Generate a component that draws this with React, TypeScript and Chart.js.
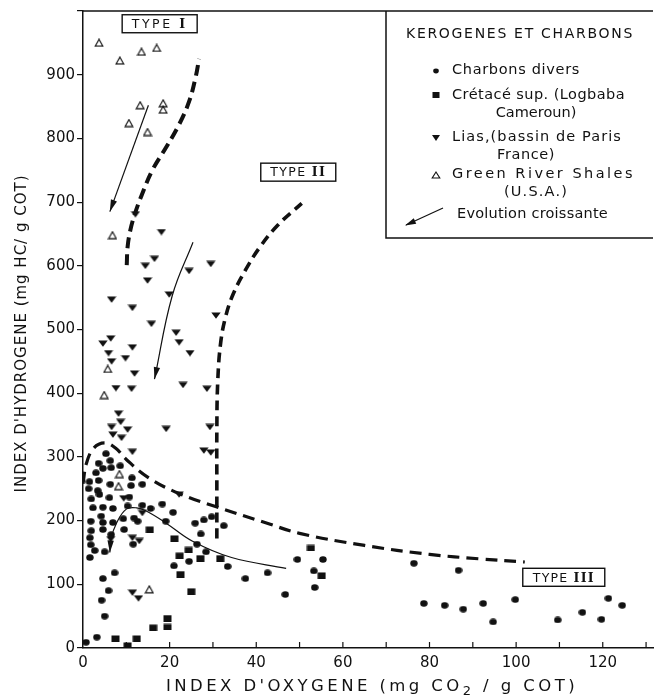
import React, { useEffect, useRef } from 'react';
import { Chart, registerables } from 'chart.js';

Chart.register(...registerables);

// ---------- axis ranges / ticks ----------
const X_MIN = 0;
const X_MAX = 131.6;
const Y_MIN = 0;
const Y_MAX = 1000;
const X_LABELED = [0, 20, 40, 60, 80, 100, 120];
const Y_LABELED = [0, 100, 200, 300, 400, 500, 600, 700, 800, 900];

// ---------- data: [Index d'oxygène, Index d'hydrogène] ----------
const charbonsDivers: number[][] = [
  [5.3, 305], [3.6, 290], [6.3, 294], [4.6, 282], [6.5, 283], [8.6, 286], [3.0, 275], [11.3, 267],
  [3.6, 263], [1.5, 261], [6.3, 257], [11.1, 255], [13.7, 257], [1.3, 250], [3.4, 247], [1.9, 234],
  [3.8, 241], [6.1, 236], [10.7, 237], [2.3, 220], [4.6, 221], [6.9, 219], [10.3, 223], [13.7, 224],
  [15.6, 219], [18.3, 226], [4.2, 207], [1.8, 199], [4.6, 197], [6.9, 197], [12.6, 199], [19.1, 199],
  [9.3, 203], [11.8, 204], [1.9, 184], [4.6, 186], [9.5, 186], [6.5, 178], [11.6, 163], [20.8, 213],
  [1.6, 173], [1.8, 162], [2.7, 153], [1.6, 142], [5.0, 151], [7.3, 118], [4.6, 109], [5.9, 90],
  [4.3, 75], [5.0, 50], [3.2, 17], [0.7, 9],
  [21, 129], [24.5, 136], [25.9, 196], [27.9, 201], [29.7, 206], [32.5, 192], [27.2, 179], [26.3, 163],
  [28.4, 151], [33.4, 128], [37.5, 109], [42.6, 118], [46.7, 84], [49.5, 139], [53.3, 121], [55.4, 139],
  [53.5, 95],
  [76.4, 133], [86.7, 122], [78.7, 70], [83.5, 67], [87.8, 61], [92.4, 70], [94.7, 41], [99.8, 76],
  [109.6, 44], [115.3, 56], [119.7, 45], [121.3, 78], [124.5, 67],
];

const cretaceSup: number[][] = [
  [15.4, 186], [21.1, 172], [24.4, 154], [22.3, 145], [27.1, 141], [31.7, 141], [22.5, 116], [25, 89],
  [16.2, 32], [19.5, 47], [19.5, 33], [7.5, 15], [12.4, 15], [10.3, 4], [52.6, 157], [55.1, 114],
];

const lias: number[][] = [
  [12.1, 681], [18.1, 653], [16.5, 611], [14.4, 600], [14.9, 577], [6.6, 547], [11.4, 534], [15.8, 509],
  [19.9, 555], [24.5, 592], [29.5, 603], [30.7, 522], [21.5, 495], [22.2, 480], [24.7, 463], [4.6, 478],
  [6.4, 486], [5.9, 463], [6.6, 450], [9.8, 455], [11.4, 472], [11.9, 431], [7.6, 408], [11.2, 407],
  [23.1, 413], [28.6, 407], [8.2, 368], [8.7, 355], [6.6, 347], [10.3, 343], [19.2, 344], [29.3, 347],
  [6.9, 335], [8.9, 330], [11.4, 308], [27.9, 310], [29.5, 307], [22.2, 241], [9.4, 235], [13.7, 212],
  [11.4, 173], [13, 168], [6.4, 171], [11.4, 87], [12.8, 78],
];

const greenRiver: number[][] = [
  [3.7, 950], [8.5, 922], [13.5, 936], [17, 942], [13.2, 852], [18.5, 855], [18.5, 845], [10.6, 824],
  [14.9, 810], [6.8, 648], [5.7, 438], [4.9, 397], [8.4, 273], [8.2, 254], [15.3, 92],
];

// ---------- evolution paths ----------
const typeIBoundary: number[][] = [
  [10.1, 601], [10.3, 630], [10.9, 655], [11.9, 680], [13.5, 710], [16, 750], [19.2, 786],
  [22.2, 822], [24.5, 858], [26, 896], [26.8, 925],
];
const typeIIBoundary: number[][] = [
  [30.9, 172], [30.9, 260], [30.9, 340], [31.1, 417], [31.8, 480], [33, 522], [34.7, 556],
  [37.4, 592], [40.7, 628], [45, 664], [50.5, 698],
];
const typeIIIBoundary: number[][] = [
  [0, 258], [0.8, 290], [2.5, 314], [5, 322], [7.5, 314], [10, 296], [15, 268], [22, 243],
  [30.6, 222], [42, 197], [50, 180], [65, 161], [80, 147], [91.5, 140], [102, 135],
];
const typeIArrow: number[][] = [[15.1, 852], [6.2, 685]];
const typeIIArrow: number[][] = [[25.4, 637], [20.6, 553], [16.5, 422]];
const typeIIICurve: number[][] = [
  [46.9, 125], [34.3, 142], [25.2, 168], [19.2, 196], [14.6, 215], [12.4, 220], [10, 218],
  [7.8, 197], [6.4, 170], [6.2, 150],
];

const legendTitle = 'KEROGENES ET CHARBONS';
const legendLines = [
  ['Charbons divers'],
  ['Crétacé sup. (Logbaba', 'Cameroun)'],
  ['Lias,(bassin de Paris', 'France)'],
  ['Green River Shales', '(U.S.A.)'],
];
const legendArrowText = 'Evolution croissante';
const typeNames = ['I', 'II', 'III'];
const typeAnchors: number[][] = [[17.7, 980], [49.7, 747], [111, 111]];

const SANS = '"DejaVu Sans", "Liberation Sans", sans-serif';
const INK = '#111';

const toXY = (arr: number[][]) => arr.map(([x, y]) => ({ x, y }));

function makeImg(w: number, h: number, draw: (c: CanvasRenderingContext2D) => void) {
  const c = document.createElement('canvas');
  c.width = w;
  c.height = h;
  const g = c.getContext('2d')!;
  draw(g);
  return c;
}

function drawSpaced(
  ctx: CanvasRenderingContext2D,
  parts: { t: string; font: string; dy?: number }[],
  x0: number,
  y: number,
  target: number,
  align: 'center' | 'left' = 'center'
) {
  const anyCtx = ctx as any;
  anyCtx.letterSpacing = '0px';
  let natural = 0;
  let n = 0;
  for (const p of parts) {
    ctx.font = p.font;
    natural += ctx.measureText(p.t).width;
    n += [...p.t].length;
  }
  const sp = Math.max(0, (target - natural) / Math.max(1, n));
  let x = align === 'center' ? x0 - (natural + sp * n) / 2 : x0;
  ctx.textAlign = 'left';
  for (const p of parts) {
    ctx.font = p.font;
    anyCtx.letterSpacing = sp + 'px';
    ctx.fillText(p.t, x, y + (p.dy || 0));
    anyCtx.letterSpacing = '0px';
    x += ctx.measureText(p.t).width + [...p.t].length * sp;
  }
}

function arrowHead(ctx: CanvasRenderingContext2D, x: number, y: number, ang: number, len = 12, half = 3.2) {
  const dx = Math.cos(ang), dy = Math.sin(ang);
  const bx = x - dx * len, by = y - dy * len;
  ctx.beginPath();
  ctx.moveTo(x, y);
  ctx.lineTo(bx - dy * half, by + dx * half);
  ctx.lineTo(bx + dy * half, by - dx * half);
  ctx.closePath();
  ctx.fill();
}

const decorPlugin = {
  id: 'decor',
  afterDatasetsDraw(chart: any) {
    const ctx: CanvasRenderingContext2D = chart.ctx;
    ctx.save();
    ctx.fillStyle = INK;
    chart.data.datasets.forEach((ds: any, i: number) => {
      if (!ds.arrow) return;
      const pts = chart.getDatasetMeta(i).data;
      const p = pts[pts.length - 1];
      const q = pts[pts.length - 2];
      let cx = p.cp1x, cy = p.cp1y;
      if (cx === undefined || Math.hypot(p.x - cx, p.y - cy) < 1) { cx = q.x; cy = q.y; }
      arrowHead(ctx, p.x, p.y, Math.atan2(p.y - cy, p.x - cx));
    });
    ctx.restore();
  },
  afterDraw(chart: any) {
    const ctx: CanvasRenderingContext2D = chart.ctx;
    const { left, right, top, bottom } = chart.chartArea;
    const xs = chart.scales.x;
    const ys = chart.scales.y;
    ctx.save();
    ctx.strokeStyle = INK;
    ctx.fillStyle = INK;

    // top frame
    ctx.lineWidth = 1.5;
    ctx.beginPath();
    ctx.moveTo(left, top);
    ctx.lineTo(right, top);
    ctx.stroke();

    // inner x ticks
    ctx.lineWidth = 1.2;
    xs.ticks.forEach((t: any) => {
      if (t.value <= 0) return;
      const px = xs.getPixelForValue(t.value);
      ctx.beginPath();
      ctx.moveTo(px, bottom);
      ctx.lineTo(px, bottom - 6);
      ctx.stroke();
    });

    // type labels
    ctx.textBaseline = 'middle';
    typeNames.forEach((num, i) => {
      const cx = xs.getPixelForValue(typeAnchors[i][0]);
      const cy = ys.getPixelForValue(typeAnchors[i][1]);
      const w = i === 2 ? 82 : 75;
      const h = 18;
      ctx.fillStyle = '#fff';
      ctx.fillRect(cx - w / 2, cy - h / 2, w, h);
      ctx.lineWidth = 1.4;
      ctx.strokeStyle = INK;
      ctx.strokeRect(cx - w / 2, cy - h / 2, w, h);
      ctx.fillStyle = INK;
      const tw = i === 2 ? 62 : 56;
      drawSpaced(ctx, [
        { t: 'TYPE ', font: `12.5px ${SANS}` },
        { t: num, font: `bold 12.5px "DejaVu Serif", serif` },
      ], cx, cy + 1, tw);
    });

    // legend box
    const bw = 267, bh = 227;
    const bx = right - bw, by = top;
    ctx.fillStyle = '#fff';
    ctx.fillRect(bx, by + 1, bw, bh - 1);
    ctx.strokeStyle = INK;
    ctx.lineWidth = 1.5;
    ctx.beginPath();
    ctx.moveTo(bx, by);
    ctx.lineTo(bx, by + bh);
    ctx.lineTo(right, by + bh);
    ctx.stroke();
    ctx.fillStyle = INK;
    ctx.textBaseline = 'middle';
    drawSpaced(ctx, [{ t: legendTitle, font: `14px ${SANS}` }], bx + 134, by + 23, 228);

    const tx = bx + 66;
    const mx = bx + 50;
    const f = `14.5px ${SANS}`;
    // entry 1 : dot
    ctx.beginPath();
    ctx.ellipse(mx, by + 60, 2.8, 2.4, 0, 0, Math.PI * 2);
    ctx.fill();
    drawSpaced(ctx, [{ t: legendLines[0][0], font: f }], tx, by + 59, 128, 'left');
    // entry 2 : square
    ctx.fillRect(mx - 3.5, by + 81, 7, 6);
    drawSpaced(ctx, [{ t: legendLines[1][0], font: f }], tx, by + 84, 173, 'left');
    drawSpaced(ctx, [{ t: legendLines[1][1], font: f }], bx + 150, by + 102, 78);
    // entry 3 : down triangle
    ctx.beginPath();
    ctx.moveTo(mx - 4, by + 124);
    ctx.lineTo(mx + 4, by + 124);
    ctx.lineTo(mx, by + 130);
    ctx.closePath();
    ctx.fill();
    drawSpaced(ctx, [{ t: legendLines[2][0], font: f }], tx, by + 126, 170, 'left');
    drawSpaced(ctx, [{ t: legendLines[2][1], font: f }], bx + 140, by + 144, 58);
    // entry 4 : open up triangle
    ctx.lineWidth = 1.1;
    ctx.beginPath();
    ctx.moveTo(mx, by + 161);
    ctx.lineTo(mx + 3.8, by + 167);
    ctx.lineTo(mx - 3.8, by + 167);
    ctx.closePath();
    ctx.stroke();
    drawSpaced(ctx, [{ t: legendLines[3][0], font: f }], tx, by + 163, 183, 'left');
    drawSpaced(ctx, [{ t: legendLines[3][1], font: f }], bx + 150, by + 181, 64);
    // entry 5 : arrow
    ctx.lineWidth = 1.2;
    ctx.beginPath();
    ctx.moveTo(bx + 57, by + 197);
    ctx.lineTo(bx + 20, by + 214);
    ctx.stroke();
    arrowHead(ctx, bx + 19, by + 214.5, Math.atan2(17, -37), 11, 3);
    drawSpaced(ctx, [{ t: legendArrowText, font: f }], bx + 71, by + 203, 151, 'left');

    // axis titles
    ctx.fillStyle = INK;
    ctx.textBaseline = 'middle';
    drawSpaced(ctx, [
      { t: "INDEX D'OXYGENE (mg CO", font: `16.5px ${SANS}` },
      { t: '2', font: `13px ${SANS}`, dy: 5 },
      { t: ' / g COT)', font: `16.5px ${SANS}` },
    ], (left + right) / 2 + 4, bottom + 39, 412);

    ctx.save();
    ctx.translate(22, (top + bottom) / 2 + 4);
    ctx.rotate(-Math.PI / 2);
    drawSpaced(ctx, [{ t: "INDEX D'HYDROGENE (mg HC/ g COT)", font: `15px ${SANS}` }], 0, 0, 318);
    ctx.restore();

    ctx.restore();
  },
};

export default function App() {
  const ref = useRef<HTMLCanvasElement | null>(null);

  useEffect(() => {
    document.body.style.margin = '0';
    const canvas = ref.current!;

    const liasImg = makeImg(10, 7, (g) => {
      g.fillStyle = INK;
      g.beginPath();
      g.moveTo(0.3, 0.5);
      g.lineTo(9.7, 0.5);
      g.lineTo(5, 6.8);
      g.closePath();
      g.fill();
    });
    const greenImg = makeImg(10, 9, (g) => {
      g.strokeStyle = INK;
      g.lineWidth = 1.2;
      g.beginPath();
      g.moveTo(5, 1);
      g.lineTo(8.8, 7.8);
      g.lineTo(1.2, 7.8);
      g.closePath();
      g.stroke();
    });
    const squareImg = makeImg(9, 7, (g) => {
      g.fillStyle = INK;
      g.fillRect(0.5, 0.5, 8, 6.5);
    });
    const dotImg = makeImg(8, 7, (g) => {
      g.fillStyle = INK;
      g.beginPath();
      g.ellipse(4, 3.5, 3.7, 3.2, 0, 0, Math.PI * 2);
      g.fill();
    });

    const lineDs = (data: number[][], width: number, dash: number[], tension: number, arrow = false) => ({
      type: 'scatter' as const,
      data: toXY(data),
      showLine: true,
      borderColor: INK,
      borderWidth: width,
      borderDash: dash,
      borderCapStyle: 'butt',
      pointRadius: 0,
      pointHoverRadius: 0,
      tension,
      fill: false,
      arrow,
    });

    const chart = new Chart(canvas, {
      type: 'scatter',
      data: {
        datasets: [
          lineDs(typeIBoundary, 4, [11, 6], 0.4),
          lineDs(typeIIBoundary, 3.6, [10, 6], 0.4),
          lineDs(typeIIIBoundary, 3.2, [12, 7], 0.4),
          lineDs(typeIArrow, 1.2, [], 0, true),
          lineDs(typeIIArrow, 1.2, [], 0.4, true),
          lineDs(typeIIICurve, 1.2, [], 0.4, true),
          { label: 'Charbons divers', data: toXY(charbonsDivers), pointStyle: dotImg, pointRadius: 4, backgroundColor: INK, borderColor: INK },
          { label: 'Crétacé sup. (Logbaba Cameroun)', data: toXY(cretaceSup), pointStyle: squareImg, pointRadius: 4, backgroundColor: INK, borderColor: INK },
          { label: 'Lias, (bassin de Paris France)', data: toXY(lias), pointStyle: liasImg, pointRadius: 4, backgroundColor: INK, borderColor: INK },
          { label: 'Green River Shales (U.S.A.)', data: toXY(greenRiver), pointStyle: greenImg, pointRadius: 4, backgroundColor: '#fff', borderColor: INK },
        ] as any,
      },
      options: {
        responsive: false,
        devicePixelRatio: 1,
        animation: false,
        events: [],
        layout: { padding: { top: 7, right: 0, left: 0, bottom: 0 } },
        plugins: { legend: { display: false }, tooltip: { enabled: false } },
        scales: {
          x: {
            type: 'linear',
            min: X_MIN,
            max: X_MAX,
            border: { display: true, color: INK, width: 1.5 },
            grid: { display: true, drawOnChartArea: false, drawTicks: false },
            ticks: {
              stepSize: 10,
              includeBounds: false,
              autoSkip: false,
              maxRotation: 0,
              padding: 6,
              color: INK,
              font: { family: SANS, size: 15 },
              callback: (v: any) => (X_LABELED.includes(Number(v)) ? String(v) : ''),
            },
            afterFit: (s: any) => { s.height = 50; },
          },
          y: {
            type: 'linear',
            min: Y_MIN,
            max: Y_MAX,
            border: { display: true, color: INK, width: 1.5 },
            grid: { display: true, drawOnChartArea: false, drawTicks: true, tickLength: 6, color: INK, lineWidth: 1.2 },
            ticks: {
              stepSize: 100,
              autoSkip: false,
              padding: 2,
              color: INK,
              font: { family: SANS, size: 15 },
              callback: (v: any) => (Y_LABELED.includes(Number(v)) ? String(v) : ''),
            },
            afterFit: (s: any) => { s.width = 83; },
          },
        },
      } as any,
      plugins: [decorPlugin],
    });

    return () => chart.destroy();
  }, []);

  return (
    <div style={{ width: 658, height: 698, background: '#fff' }}>
      <canvas ref={ref} width={658} height={698} style={{ display: 'block' }} />
    </div>
  );
}
